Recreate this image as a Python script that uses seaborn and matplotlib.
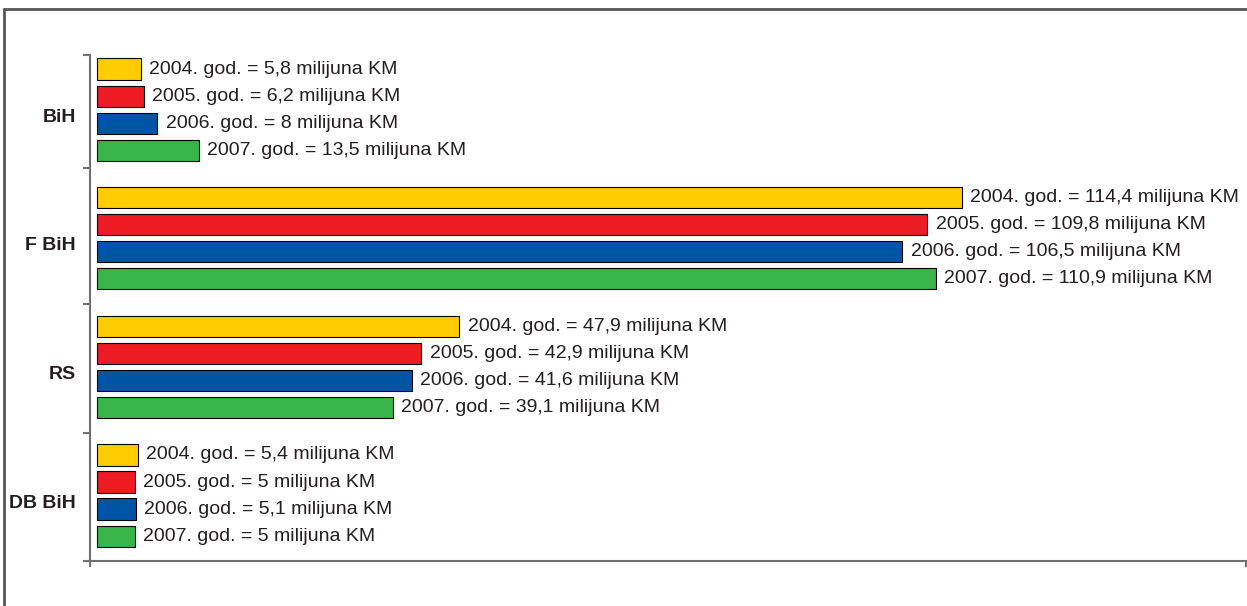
import matplotlib.pyplot as plt
import matplotlib.transforms as mtransforms
from matplotlib.lines import Line2D
import seaborn as sns
import pandas as pd

regions = ['BiH', 'F BiH', 'RS', 'DB BiH']
years = ['2004', '2005', '2006', '2007']
bih = [5.8, 6.2, 8, 13.5]
fbih = [114.4, 109.8, 106.5, 110.9]
rs = [47.9, 42.9, 41.6, 39.1]
dbbih = [5.4, 5.0, 5.1, 5.0]
year_colors = ['#FFCC00', '#ED1C24', '#0054A6', '#39B54A']

rows = []
for reg, vals in zip(regions, [bih, fbih, rs, dbbih]):
    for yr, v in zip(years, vals):
        rows.append({'region': reg, 'year': yr, 'value': v})
frame = pd.DataFrame(rows)

sns.set_style('white')
plt.rcParams['font.family'] = ['Liberation Sans', 'DejaVu Sans']

fig = plt.figure(figsize=(12.47, 6.06), dpi=100)
ax = fig.add_axes([90 / 1247, 1 - 561 / 606, (1246 - 90) / 1247, (561 - 55) / 606])

sns.barplot(data=frame, y='region', x='value', hue='year', orient='h',
            order=regions, hue_order=years, palette=year_colors, saturation=1,
            width=0.84, gap=0.22, edgecolor='black', linewidth=0.8,
            legend=False, ax=ax)

# value labels next to each bar
for cont, yr in zip(ax.containers, years):
    for bar, v in zip(cont, frame.loc[frame.year == yr, 'value']):
        num = f"{v:g}".replace('.', ',')
        txt = f"{yr}. god. = {num} milijuna KM"
        ax.annotate(txt, xy=(bar.get_width(), bar.get_y() + bar.get_height() / 2),
                    xytext=(6, 0), textcoords='offset points',
                    va='center', ha='left', fontsize=14, color='#231F20')

ax.set_xlim(-0.926, 151.96)
ax.set_ylim(3.509, -0.424)
ax.set_xlabel('')
ax.set_ylabel('')

spine_col = '#707070'
for s in ['top', 'right']:
    ax.spines[s].set_visible(False)
for s in ['left', 'bottom']:
    ax.spines[s].set_color(spine_col)
    ax.spines[s].set_linewidth(1.5)

# x axis: only end ticks, no labels
ax.set_xticks([-0.926, 151.96])
ax.set_xticklabels([])
ax.tick_params(axis='x', which='major', direction='out', length=4.5,
               width=1.5, color=spine_col, bottom=True)

# y axis: group labels, separators as minor ticks
ax.set_yticks(range(len(regions)))
ax.set_yticklabels(regions, fontsize=14, fontweight='bold', color='#231F20')
ax.set_yticks([-0.424, 0.452, 1.512, 2.512, 3.509], minor=True)
ax.tick_params(axis='y', which='major', length=0, pad=10)
ax.tick_params(axis='y', which='minor', direction='out', length=5,
               width=1.5, color=spine_col, left=True)
offset = mtransforms.ScaledTranslation(0, -4 / 72, fig.dpi_scale_trans)
for lab in ax.get_yticklabels():
    lab.set_transform(lab.get_transform() + offset)

# outer frame (left and top edges)
fig.add_artist(Line2D([4 / 1247, 4 / 1247], [0, 1 - 9 / 606],
                      transform=fig.transFigure, color='#555555', lw=2))
fig.add_artist(Line2D([4 / 1247, 1], [1 - 9 / 606, 1 - 9 / 606],
                      transform=fig.transFigure, color='#555555', lw=2))

fig.savefig('out.png', dpi=100)
